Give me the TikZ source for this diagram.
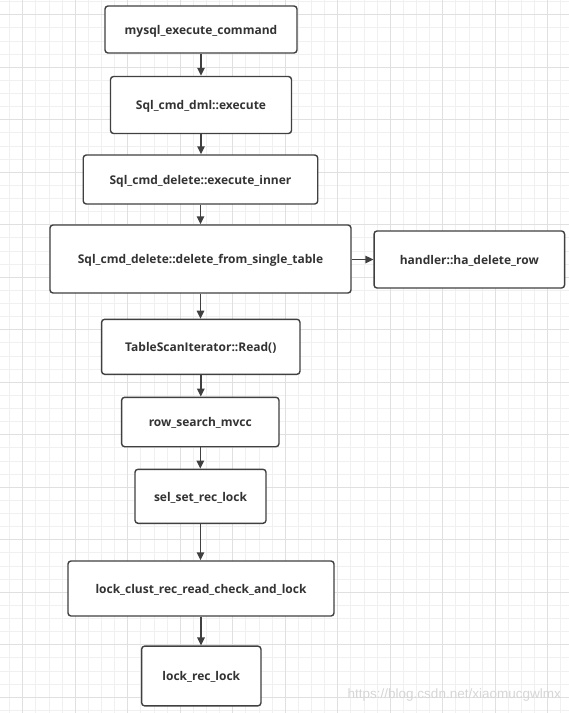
\documentclass[tikz,border=0pt]{standalone}
\usepackage{fontspec}
\setmainfont{Open Sans}
\newfontfamily\wmfont{Liberation Sans}
\usetikzlibrary{arrows.meta}
\definecolor{gridminor}{HTML}{F0F0F0}
\definecolor{gridmajor}{HTML}{E0E0E0}
\definecolor{boxline}{HTML}{404040}
\definecolor{txt}{HTML}{333333}
\definecolor{wm}{HTML}{D6D6D6}
\begin{document}
\begin{tikzpicture}[x=1pt,y=-1pt,
  box/.style={draw=boxline, line width=1.4pt, rounded corners=3pt, fill=white,
    font=\bfseries\fontsize{12}{13}\selectfont, text=txt, inner sep=0pt,
    text height=10.5pt, text depth=1pt},
  conn/.style={draw=boxline, line width=1.4pt, -{Triangle[length=8pt,width=7.5pt]}},
  gminor/.style={draw=gridminor, line width=0.9pt},
  gmajor/.style={draw=gridmajor, line width=0.9pt}]
\useasboundingbox (0,0) rectangle (569,713);
\fill[white] (0,0) rectangle (569,713);
% grid
\foreach \k in {-1,...,41} {\draw[gminor] ({22.7+13.125*\k},0) -- ({22.7+13.125*\k},713);}
\foreach \k in {-1,...,53} {\draw[gminor] (0,{14.8+13.125*\k}) -- (569,{14.8+13.125*\k});}
\foreach \k in {0,...,10} {\draw[gmajor] ({22.7+52.5*\k},0) -- ({22.7+52.5*\k},713);}
\foreach \k in {0,...,13} {\draw[gmajor] (0,{14.8+52.5*\k}) -- (569,{14.8+52.5*\k});}
% watermark
\node[font=\wmfont\fontsize{13.5}{15}\selectfont, text=wm, anchor=east, inner sep=0pt] (wm) at (561,695) {https://blog.csdn.net/xiaomucgwlmx};
% boxes
\node[box, minimum width=192pt, minimum height=47pt] (n1) at (201,29.5) {mysql\_execute\_command};
\node[box, minimum width=181pt, minimum height=57pt] (n2) at (201,105) {Sql\_cmd\_dml::execute};
\node[box, minimum width=234.5pt, minimum height=49pt] (n3) at (200.5,179.5) {Sql\_cmd\_delete::execute\_inner};
\node[box, minimum width=301pt, minimum height=68pt] (n4) at (200.5,259) {Sql\_cmd\_delete::delete\_from\_single\_table};
\node[box, minimum width=190.5pt, minimum height=57pt] (n5) at (469.3,259.5) {handler::ha\_delete\_row};
\node[box, minimum width=198.3pt, minimum height=55pt] (n6) at (200.8,346.8) {TableScanIterator::Read()};
\node[box, minimum width=157.3pt, minimum height=49.4pt] (n7) at (200.3,422) {row\_search\_mvcc};
\node[box, minimum width=131pt, minimum height=54pt] (n8) at (200.5,496.3) {sel\_set\_rec\_lock};
\node[box, minimum width=266pt, minimum height=55pt] (n9) at (201,588.5) {lock\_clust\_rec\_read\_check\_and\_lock};
\node[box, minimum width=119.3pt, minimum height=59.7pt] (n10) at (201.3,676) {lock\_rec\_lock};
% connectors
\draw[conn] (n1.south) -- (n1.south |- n2.north);
\draw[conn] (n2.south) -- (n2.south |- n3.north);
\draw[conn] (n3.south) -- (n3.south |- n4.north);
\draw[conn] (n4.south) -- (n4.south |- n6.north);
\draw[conn] (n6.south) -- (n6.south |- n7.north);
\draw[conn] (n7.south) -- (n7.south |- n8.north);
\draw[conn] (n8.south) -- (n8.south |- n9.north);
\draw[conn] (n9.south) -- (n9.south |- n10.north);
\draw[conn] (n4.east |- n5.west) -- (n5.west);
\end{tikzpicture}
\end{document}
